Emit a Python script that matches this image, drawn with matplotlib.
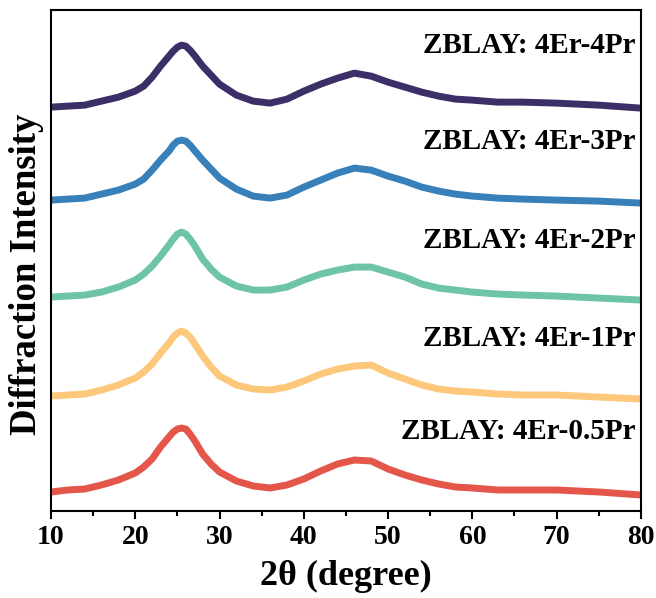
import numpy as np
import matplotlib
matplotlib.use("Agg")
import matplotlib.pyplot as plt
from matplotlib.ticker import MultipleLocator

plt.rcParams["font.family"] = ["Liberation Serif", "DejaVu Serif"]
plt.rcParams["font.weight"] = "bold"

# 2theta sampling points (degree)
two_theta = [10, 12, 14, 16, 18, 20, 21, 22, 23, 24, 24.5, 25, 25.5, 26, 26.5, 27, 28, 29, 30,
             32, 34, 36, 38, 40, 42, 44, 46, 48, 50, 52, 54, 56, 58, 60,
             63, 66, 70, 75, 80]

# stacked intensities (a.u., already offset as in the figure)
i_4pr = [404, 405, 406, 410, 414, 420, 425, 434, 445, 455, 460, 464, 466, 465, 461, 456, 445, 436, 427,
         416, 410, 408, 412, 420, 427, 433, 438, 435, 429, 424, 419, 415, 412, 411,
         409, 409, 408, 406, 403]
i_3pr = [311, 312, 313, 317, 321, 327, 332, 341, 351, 360, 366, 370, 371, 370, 366, 361, 351, 342, 333,
         322, 315, 313, 316, 324, 331, 338, 343, 341, 335, 330, 324, 320, 317, 315,
         313, 312, 311, 310, 308]
i_2pr = [214, 215, 216, 219, 224, 231, 237, 245, 255, 266, 272, 277, 279, 277, 272, 266, 252, 242, 234,
         225, 221, 221, 224, 231, 237, 241, 244, 244, 239, 234, 227, 223, 221, 219,
         217, 216, 215, 213, 211]
i_1pr = [115, 116, 117, 121, 126, 133, 139, 147, 158, 168, 174, 178, 180, 178, 174, 168, 155, 144, 135,
         126, 122, 121, 124, 130, 137, 142, 145, 146, 138, 132, 126, 122, 120, 119,
         117, 116, 116, 114, 112]
i_05pr = [19, 21, 22, 26, 31, 38, 44, 52, 64, 74, 79, 82, 83, 82, 77, 71, 57, 47, 39,
          30, 25, 23, 26, 32, 40, 47, 51, 50, 42, 36, 31, 27, 24, 23,
          21, 21, 21, 19, 16]

labels = ["ZBLAY: 4Er-4Pr", "ZBLAY: 4Er-3Pr", "ZBLAY: 4Er-2Pr",
          "ZBLAY: 4Er-1Pr", "ZBLAY: 4Er-0.5Pr"]
series = [i_4pr, i_3pr, i_2pr, i_1pr, i_05pr]
colors = ["#3C2F67", "#3780BA", "#6DC4A6", "#FDC77C", "#E45649"]
label_y = [0.930, 0.737, 0.541, 0.345, 0.158]

fig = plt.figure(figsize=(6.56, 5.98), dpi=100)
ax = fig.add_axes([0.0777, 0.1455, 0.8993, 0.8375])

for ys, c in zip(series, colors):
    ax.plot(two_theta, ys, color=c, lw=5, solid_joinstyle="round")

for lab, ly in zip(labels, label_y):
    ax.text(0.9915, ly, lab, transform=ax.transAxes, ha="right", va="center",
            fontsize=21, fontweight="bold")

ax.set_xlim(10, 80)
ax.set_ylim(0, 501)
ax.xaxis.set_major_locator(MultipleLocator(10))
ax.xaxis.set_minor_locator(MultipleLocator(5))
ax.tick_params(axis="x", which="major", direction="out", length=6, width=1.5,
               labelsize=20, pad=4)
ax.tick_params(axis="x", which="minor", direction="out", length=3.5, width=1.5)
ax.set_yticks([])
for s in ax.spines.values():
    s.set_linewidth(1.5)

ax.set_xlabel("2θ (degree)", fontsize=26, fontweight="bold", labelpad=7)
ax.set_ylabel("Diffraction Intensity", fontsize=26.5, fontweight="bold")
ax.yaxis.set_label_coords(-0.012, 0.473)

fig.savefig("out.png", dpi=100)
